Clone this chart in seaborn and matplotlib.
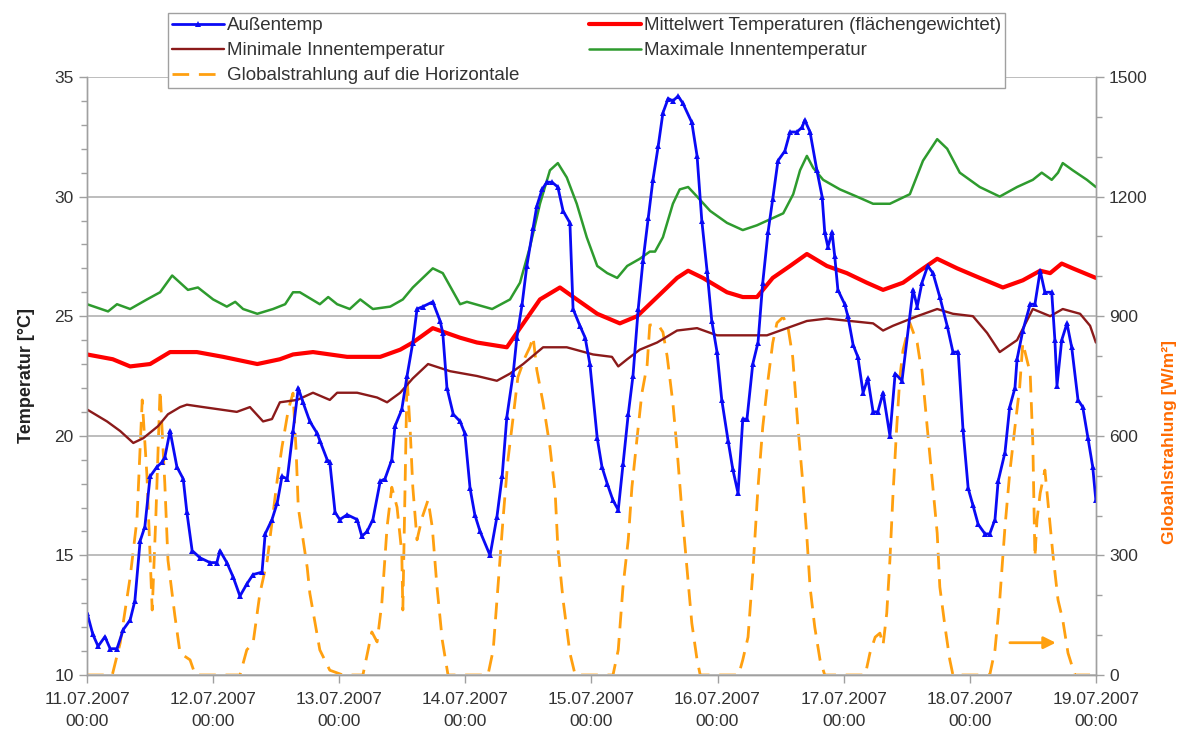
import pandas as pd
import numpy as np
import matplotlib
matplotlib.use("Agg")
import matplotlib.pyplot as plt
import matplotlib.dates as mdates
from matplotlib.ticker import MultipleLocator
import seaborn as sns

# --- data (hours after 11.07.2007 00:00) ---
START = pd.Timestamp("2007-07-11 00:00")

aussen_h = [0.0, 1.1, 2.1, 3.4, 4.4, 5.7, 6.9, 8.2, 9.1, 10.1, 11.0, 12.0, 13.3, 14.3, 14.8, 15.8,
            17.1, 18.3, 19.0, 20.0, 21.5, 23.4, 24.7, 25.3, 26.6, 27.8, 29.1, 30.4, 31.6, 33.3,
            33.9, 35.2, 36.2, 37.1, 38.1, 39.2, 40.2, 41.1, 42.4, 43.8, 44.3, 45.7, 46.2, 47.2,
            48.1, 49.5, 51.4, 52.3, 53.3, 54.4, 55.8, 56.7, 58.0, 58.6, 59.9, 60.9, 62.0, 62.8,
            63.9, 65.8, 67.2, 67.7, 68.5, 69.7, 71.0, 71.9, 72.9, 73.8, 74.8, 76.7, 78.0, 79.0,
            79.9, 81.1, 81.8, 82.8, 83.7, 84.9, 85.6, 86.6, 87.5, 88.5, 89.6, 90.6, 91.9, 92.5,
            93.8, 94.8, 95.7, 97.1, 98.0, 99.0, 100.1, 101.1, 102.0, 103.0, 103.9, 104.9, 105.8,
            106.8, 107.7, 108.7, 109.6, 110.6, 111.5, 112.5, 113.4, 115.1, 116.1, 117.0, 118.0,
            118.9, 119.9, 120.8, 122.0, 122.9, 123.9, 124.8, 125.6, 126.7, 127.7, 128.6, 129.6,
            130.5, 131.5, 132.8, 133.8, 135.1, 136.1, 136.6, 137.6, 138.9, 139.9, 140.4, 141.0,
            141.8, 142.3, 142.9, 144.2, 144.8, 145.8, 146.7, 147.7, 148.6, 149.6, 150.5, 151.5,
            152.8, 153.8, 155.1, 157.2, 158.0, 158.9, 160.0, 161.0, 162.3, 163.7, 164.8, 165.8,
            166.7, 167.7, 168.6, 169.6, 170.9, 171.8, 172.8, 173.4, 174.7, 175.6, 176.6, 177.0,
            178.1, 179.5, 180.4, 181.4, 182.3, 183.6, 184.2, 184.6, 185.5, 186.5, 187.4, 188.6,
            189.5, 190.5, 191.4, 192.0]
aussen_t = [12.6, 11.7, 11.2, 11.6, 11.1, 11.1, 11.9, 12.3, 13.1, 15.6, 16.2, 18.3, 18.7, 18.9, 19.1, 20.2,
            18.7, 18.2, 16.8, 15.2, 14.9, 14.7, 14.7, 15.2, 14.7, 14.1, 13.3, 13.8, 14.2, 14.3,
            15.9, 16.5, 17.2, 18.3, 18.2, 20.2, 22.0, 21.4, 20.6, 20.1, 19.8, 19.0, 18.9, 16.8,
            16.5, 16.7, 16.5, 15.8, 16.0, 16.5, 18.1, 18.2, 19.0, 20.4, 21.1, 22.5, 23.9, 25.3,
            25.4, 25.6, 24.8, 24.3, 22.0, 20.9, 20.6, 20.1, 17.8, 16.7, 16.0, 15.0, 16.6, 18.3,
            20.8, 22.6, 24.1, 25.5, 27.1, 28.7, 29.6, 30.3, 30.6, 30.6, 30.4, 29.4, 28.9, 25.3,
            24.6, 24.1, 23.0, 19.9, 18.7, 18.0, 17.3, 16.9, 18.8, 20.9, 22.5, 25.3, 27.3,
            29.1, 30.7, 32.1, 33.5, 34.1, 34.0, 34.2, 33.9, 33.1, 31.7, 29.0, 26.9,
            24.8, 23.5, 21.5, 19.8, 18.6, 17.6, 20.7, 20.7, 23.0, 23.9, 26.4, 28.5,
            29.9, 31.5, 31.9, 32.7, 32.7, 32.9, 33.2, 32.7, 31.1, 30.0, 28.5, 27.9,
            28.5, 27.5, 26.1, 25.5, 25.0, 23.8, 23.3, 21.8, 22.4, 21.0, 21.0, 21.8,
            20.0, 22.6, 22.3, 26.1, 25.4, 26.4, 27.1, 26.8, 25.8, 24.6, 23.5, 23.5,
            20.3, 17.8, 17.1, 16.3, 15.9, 15.9, 16.5, 18.1, 19.3, 21.2, 22.0, 23.2,
            24.4, 25.5, 25.5, 26.9, 26.0, 26.0, 24.0, 22.1, 24.0, 24.7, 23.7, 21.5,
            21.2, 19.9, 18.7, 17.3]

mittel_h = [0.0, 4.9, 8.2, 12.0, 15.8, 20.9, 25.9, 32.4, 36.7, 39.2, 43.0, 49.5, 55.8, 59.6, 62.0,
            65.8, 71.0, 74.2, 79.9, 82.4, 86.2, 90.0, 93.2, 97.1, 101.4, 104.7, 108.5, 112.3,
            114.4, 117.2, 121.8, 124.8, 127.5, 130.5, 133.8, 137.0, 140.8, 144.6, 148.4, 151.5,
            155.3, 158.5, 161.8, 165.6, 169.9, 174.3, 178.1, 181.4, 183.3, 185.5, 187.6, 192.0]
mittel_t = [23.4, 23.2, 22.9, 23.0, 23.5, 23.5, 23.3, 23.0, 23.2, 23.4, 23.5, 23.3, 23.3, 23.6, 23.9,
            24.5, 24.1, 23.9, 23.7, 24.5, 25.7, 26.2, 25.7, 25.1, 24.7, 25.0, 25.8, 26.6,
            26.9, 26.6, 26.0, 25.8, 25.8, 26.6, 27.1, 27.6, 27.1, 26.8, 26.4, 26.1,
            26.4, 26.9, 27.4, 27.0, 26.6, 26.2, 26.5, 26.9, 26.8, 27.2, 27.0, 26.6]

min_h = [0.0, 3.8, 6.3, 8.8, 10.7, 13.5, 15.4, 17.7, 19.0, 22.1, 25.3, 28.5, 31.0, 33.5, 35.2, 36.7,
         40.0, 43.0, 46.2, 47.6, 51.4, 55.2, 57.1, 59.6, 62.0, 64.9, 69.1, 74.2, 78.0, 80.5, 83.0,
         86.8, 91.3, 96.3, 99.9, 101.1, 102.8, 105.2, 108.5, 112.3, 116.1, 119.9, 124.8, 129.4,
         137.0, 140.8, 145.2, 149.6, 151.5, 153.4, 158.0, 161.8, 164.8, 168.6, 171.3, 173.7,
         177.0, 180.0, 183.3, 185.7, 189.0, 190.9, 192.0]
min_t = [21.1, 20.6, 20.2, 19.7, 19.9, 20.4, 20.9, 21.2, 21.3, 21.2, 21.1, 21.0, 21.2, 20.6, 20.7, 21.4,
         21.5, 21.8, 21.5, 21.8, 21.8, 21.6, 21.4, 21.8, 22.4, 23.0, 22.7, 22.5, 22.3, 22.6, 23.0,
         23.7, 23.7, 23.4, 23.3, 22.9, 23.2, 23.6, 23.9, 24.4, 24.5, 24.2, 24.2, 24.2,
         24.8, 24.9, 24.8, 24.7, 24.4, 24.6, 25.0, 25.3, 25.1, 25.0, 24.3, 23.5,
         24.0, 25.3, 25.0, 25.3, 25.1, 24.6, 23.9]

max_h = [0.0, 4.0, 5.7, 8.2, 11.4, 13.9, 16.2, 19.2, 21.1, 24.0, 26.6, 28.2, 29.7, 32.4, 35.4, 37.7,
         39.2, 40.5, 44.3, 45.9, 47.6, 50.0, 52.0, 54.4, 57.7, 60.1, 62.0, 65.8, 67.7, 71.0, 72.3,
         77.1, 80.5, 82.4, 84.3, 86.2, 88.1, 89.6, 91.3, 93.2, 95.1, 97.1, 99.0, 100.9, 102.8,
         105.2, 107.1, 108.1, 109.6, 111.5, 112.8, 114.4, 116.1, 118.6, 121.8, 124.8, 127.5,
         130.5, 132.5, 134.4, 135.7, 137.0, 138.2, 140.1, 143.3, 146.5, 149.6, 152.8, 156.6,
         159.1, 161.8, 163.7, 166.1, 169.9, 173.7, 177.0, 180.0, 181.7, 183.6, 184.8, 185.7,
         187.6, 190.3, 192.0]
max_t = [25.5, 25.2, 25.5, 25.3, 25.7, 26.0, 26.7, 26.1, 26.2, 25.7, 25.4, 25.6, 25.3, 25.1, 25.3, 25.5,
         26.0, 26.0, 25.5, 25.8, 25.5, 25.3, 25.7, 25.3, 25.4, 25.7, 26.2, 27.0, 26.8, 25.5, 25.6,
         25.3, 25.7, 26.4, 27.9, 29.7, 31.1, 31.4, 30.8, 29.7, 28.3, 27.1, 26.8, 26.6, 27.1,
         27.4, 27.7, 27.7, 28.3, 29.7, 30.3, 30.4, 30.0, 29.4, 28.9, 28.6, 28.8,
         29.1, 29.3, 30.1, 31.1, 31.7, 31.2, 30.7, 30.3, 30.0, 29.7, 29.7, 30.1,
         31.5, 32.4, 32.0, 31.0, 30.4, 30.0, 30.4, 30.7, 31.0, 30.7, 31.0, 31.4,
         31.1, 30.7, 30.4]

strahlung_h = [0.0, 4.8, 6.3, 8.2, 9.5, 10.5, 11.4, 12.4, 13.1, 13.9, 14.8, 15.4, 16.7, 17.7, 19.6, 20.6,
               29.1, 30.4, 31.6, 32.9, 34.3, 36.2, 37.1, 38.3, 39.2, 39.8, 40.2, 41.9, 42.4, 44.3, 46.2, 48.7,
               52.5, 53.5, 54.2, 55.2, 56.1, 57.1, 58.0, 59.0, 59.9, 60.1, 60.9, 61.5, 62.0, 62.8, 63.8,
               64.9, 65.7, 66.6, 67.6, 68.7,
               76.3, 77.3, 78.2, 79.2, 80.1, 81.1, 82.0, 83.4, 84.3, 84.9, 85.6, 86.8, 88.1, 89.1, 89.6,
               90.6, 91.9, 92.9,
               100.1, 101.1, 102.0, 103.0, 103.7, 104.7, 105.6, 106.6, 107.1, 108.7, 109.6, 110.4, 111.5,
               112.3, 113.2, 114.2, 115.1, 116.1, 116.7,
               124.0, 124.8, 125.8, 126.7, 127.7, 128.6, 129.6, 130.5, 131.3, 132.5, 133.4, 134.3, 135.3,
               136.3, 137.0, 137.6, 138.5, 139.5, 140.4,
               148.1, 149.0, 150.0, 150.9, 151.5, 152.2, 152.8, 153.4, 154.1, 154.7, 155.3, 156.6, 158.0,
               158.5, 158.9, 159.9, 160.8, 161.8, 162.3, 163.3, 164.2, 164.8,
               171.8, 172.8, 173.7, 174.7, 175.6, 176.6, 177.5, 178.1, 178.9, 179.5, 180.0, 180.4, 180.8,
               181.4, 182.3, 182.9, 183.8, 184.8, 185.7, 186.7, 188.0, 192.0]
strahlung_w = [0, 0, 80, 245, 390, 690, 500, 163, 400, 715, 480, 288, 150, 55, 38, 0,
               0, 63, 80, 205, 288, 490, 572, 665, 707, 560, 420, 270, 205, 63, 12, 0,
               0, 63, 108, 83, 180, 371, 471, 421, 306, 163, 747, 614, 471, 339, 396,
               439, 371, 221, 88, 0,
               0, 63, 221, 396, 539, 647, 747, 798, 823, 848, 765, 682, 572, 456, 321,
               188, 55, 0,
               0, 63, 221, 339, 471, 597, 707, 778, 878, 878, 860, 800, 682,
               564, 414, 263, 130, 38, 0,
               0, 38, 95, 256, 471, 622, 740, 833, 883, 898, 873, 798, 622,
               471, 346, 221, 120, 38, 0,
               0, 55, 95, 105, 75, 155, 288, 456, 622, 747, 815, 883, 833,
               790, 765, 622, 497, 356, 221, 120, 38, 0,
               0, 63, 188, 371, 506, 622, 722, 833, 790, 757, 582, 296, 389,
               456, 514, 431, 306, 188, 138, 55, 0, 0]

day_ticks = pd.date_range("2007-07-11", "2007-07-19", freq="D")


def frame(hours, values):
    return pd.DataFrame({"zeit": START + pd.to_timedelta(hours, unit="h"), "wert": values})


# --- plot ---
sns.set_style("white")
plt.rcParams["font.family"] = ["Liberation Sans", "DejaVu Sans"]

fig = plt.figure(figsize=(11.86, 7.31), dpi=100)
ax = fig.add_axes([0.0734, 0.0766, 0.8506, 0.8181])
ax2 = ax.twinx()

sns.lineplot(data=frame(strahlung_h, strahlung_w), x="zeit", y="wert", ax=ax2,
             color="#FFA010", lw=2.0, linestyle=(0, (6, 3.5)), legend=False)
l_str = ax2.lines[-1]

sns.lineplot(data=frame(min_h, min_t), x="zeit", y="wert", ax=ax, color="#8B1A1A", lw=1.7, legend=False)
l_min = ax.lines[-1]
sns.lineplot(data=frame(max_h, max_t), x="zeit", y="wert", ax=ax, color="#2E9B2E", lw=1.8, legend=False)
l_max = ax.lines[-1]
sns.lineplot(data=frame(mittel_h, mittel_t), x="zeit", y="wert", ax=ax, color="#FF0000", lw=3.0, legend=False)
l_mit = ax.lines[-1]
sns.lineplot(data=frame(aussen_h, aussen_t), x="zeit", y="wert", ax=ax, color="#0A0AF5", lw=2.0,
             marker="^", markersize=4.5, markeredgewidth=0, legend=False)
l_aus = ax.lines[-1]

# temperature axis drawn above the radiation axis
ax.set_zorder(ax2.get_zorder() + 1)
ax.patch.set_visible(False)

ax.set_xlim(day_ticks[0], day_ticks[-1])
ax.set_ylim(10, 35)
ax2.set_ylim(0, 1500)
ax.yaxis.set_major_locator(MultipleLocator(5))
ax.yaxis.set_minor_locator(MultipleLocator(1))
ax2.yaxis.set_major_locator(MultipleLocator(300))
ax2.yaxis.set_minor_locator(MultipleLocator(100))
ax.set_xticks(day_ticks)
ax.xaxis.set_major_formatter(mdates.DateFormatter("%d.%m.%Y\n%H:%M"))

ax.grid(axis="y", which="major", color="#bdbdbd", lw=1.4)
ax.grid(axis="x", visible=False)
ax2.grid(False)

for a in (ax, ax2):
    for s in a.spines.values():
        s.set_color("#a0a0a0")
        s.set_linewidth(1.0)
ax.spines["top"].set_visible(False)
ax2.spines["top"].set_visible(False)

ax.tick_params(axis="both", which="major", direction="out", length=6, width=1, color="#a0a0a0",
               labelsize=12.5, labelcolor="#333333", left=True, bottom=True)
ax.tick_params(axis="y", which="minor", direction="out", length=4, width=1, color="#a0a0a0", left=True)
ax.tick_params(axis="x", pad=6)
ax2.tick_params(axis="y", which="major", direction="out", length=6, width=1, color="#a0a0a0",
                labelsize=12.5, labelcolor="#333333", right=True)
ax2.tick_params(axis="y", which="minor", direction="out", length=4, width=1, color="#a0a0a0", right=True)
for lbl in ax.get_xticklabels():
    lbl.set_linespacing(1.6)

ax.set_xlabel("")
ax.set_ylabel("Temperatur [°C]", fontsize=13, fontweight="bold", color="#222222")
ax.yaxis.set_label_coords(-0.052, 0.5)
ax2.set_ylabel("Globahlstrahlung [W/m²]", fontsize=12.5, fontweight="bold", color="#FF6A00")
ax2.yaxis.set_label_coords(1.066, 0.39)

# arrow marking the radiation curve as right-axis series
ax.annotate("", xy=(0.963, 0.054), xytext=(0.912, 0.054), xycoords="axes fraction",
            arrowprops=dict(arrowstyle="-|>", color="#FFA010", lw=2, mutation_scale=18))

handles = [l_aus, l_min, l_str, l_mit, l_max]
labels = ["Außentemp", "Minimale Innentemperatur", "Globalstrahlung auf die Horizontale",
          "Mittelwert Temperaturen (flächengewichtet)", "Maximale Innentemperatur"]
leg = fig.legend(handles, labels, ncol=2, loc="lower left", mode="expand",
                 bbox_to_anchor=(0.1417, 0.8796, 0.7055, 0.103), fontsize=13.5,
                 frameon=True, fancybox=False, edgecolor="#a0a0a0", framealpha=1,
                 handlelength=2.8, handletextpad=0.15, labelspacing=0.42, borderaxespad=0,
                 borderpad=0.2, columnspacing=1.0)
leg.get_frame().set_linewidth(1.0)
for t in leg.get_texts():
    t.set_color("#333333")

fig.savefig("out.png", dpi=100)
